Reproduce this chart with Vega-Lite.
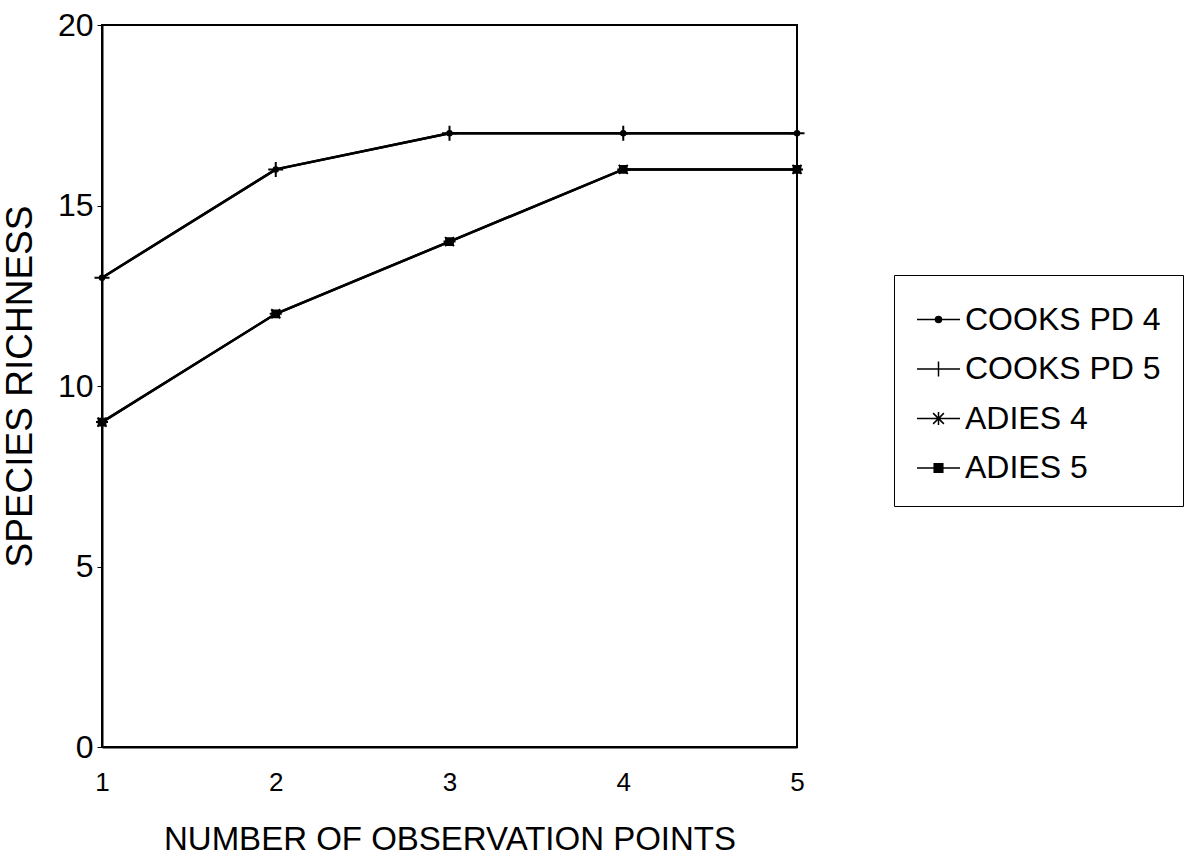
{
  "$schema": "https://vega.github.io/schema/vega-lite/v6.json",
  "width": 695,
  "height": 722,
  "autosize": {"type": "none"},
  "padding": {"left": 102, "top": 25, "right": 392, "bottom": 109},
  "background": "white",
  "config": {
    "font": "Liberation Sans",
    "view": {"stroke": "black", "strokeWidth": 2},
    "axis": {"grid": false, "domainColor": "black", "domainWidth": 2, "tickColor": "black", "labelColor": "black", "titleColor": "black", "titleFontWeight": "normal", "labelFont": "Liberation Sans", "titleFont": "Liberation Sans"}
  },
  "data": {
    "values": [
      {"points": 1, "richness": 13, "site": "COOKS PD 4"},
      {"points": 2, "richness": 16, "site": "COOKS PD 4"},
      {"points": 3, "richness": 17, "site": "COOKS PD 4"},
      {"points": 4, "richness": 17, "site": "COOKS PD 4"},
      {"points": 5, "richness": 17, "site": "COOKS PD 4"},
      {"points": 1, "richness": 13, "site": "COOKS PD 5"},
      {"points": 2, "richness": 16, "site": "COOKS PD 5"},
      {"points": 3, "richness": 17, "site": "COOKS PD 5"},
      {"points": 4, "richness": 17, "site": "COOKS PD 5"},
      {"points": 5, "richness": 17, "site": "COOKS PD 5"},
      {"points": 1, "richness": 9, "site": "ADIES 4"},
      {"points": 2, "richness": 12, "site": "ADIES 4"},
      {"points": 3, "richness": 14, "site": "ADIES 4"},
      {"points": 4, "richness": 16, "site": "ADIES 4"},
      {"points": 5, "richness": 16, "site": "ADIES 4"},
      {"points": 1, "richness": 9, "site": "ADIES 5"},
      {"points": 2, "richness": 12, "site": "ADIES 5"},
      {"points": 3, "richness": 14, "site": "ADIES 5"},
      {"points": 4, "richness": 16, "site": "ADIES 5"},
      {"points": 5, "richness": 16, "site": "ADIES 5"}
    ]
  },
  "encoding": {
    "x": {
      "field": "points", "type": "quantitative",
      "scale": {"domain": [1, 5], "nice": false, "zero": false},
      "axis": {"values": [1, 2, 3, 4, 5], "tickSize": 0, "labelPadding": 22, "labelFontSize": 26, "title": "NUMBER OF OBSERVATION POINTS", "titleFontSize": 33, "titlePadding": 28, "labelFlush": false}
    },
    "y": {
      "field": "richness", "type": "quantitative",
      "scale": {"domain": [0, 20], "nice": false},
      "axis": {"values": [0, 5, 10, 15, 20], "tickSize": 5, "labelPadding": 4, "labelFontSize": 32, "title": "SPECIES RICHNESS", "titleFontSize": 37, "titlePadding": 18}
    }
  },
  "resolve": {"scale": {"shape": "independent"}, "legend": {"shape": "independent"}},
  "layer": [
    {
      "mark": {"type": "line", "color": "black", "strokeWidth": 2.5},
      "encoding": {"detail": {"field": "site"}}
    },
    {
      "mark": {"type": "point", "filled": true, "fill": "black", "stroke": "black", "strokeWidth": 2, "size": 225, "opacity": 1},
      "encoding": {
        "shape": {
          "field": "site", "type": "nominal",
          "scale": {
            "domain": ["COOKS PD 4", "COOKS PD 5", "ADIES 4", "ADIES 5"],
            "range": [
              "M-0.3,0A0.3,0.3,0,1,0,0.3,0A0.3,0.3,0,1,0,-0.3,0Z",
              "M-1,0H1M0,-1V1",
              "M-0.8,0H0.8M-0.6,-0.6L0.6,0.6M-0.6,0.6L0.6,-0.6",
              "M-0.45,-0.45H0.45V0.45H-0.45Z"
            ]
          },
          "legend": null
        }
      }
    },
    {
      "transform": [{"filter": "datum.points > 100"}],
      "mark": {"type": "point", "filled": true, "fill": "black", "stroke": "black", "strokeWidth": 2, "size": 225, "opacity": 1},
      "encoding": {
        "shape": {
          "field": "site", "type": "nominal",
          "scale": {
            "domain": ["COOKS PD 4", "COOKS PD 5", "ADIES 4", "ADIES 5"],
            "range": [
              "M-1,0H1M-0.14,0A0.14,0.14,0,1,0,0.14,0A0.14,0.14,0,1,0,-0.14,0Z",
              "M-1,0H1M0,-0.35V0.35",
              "M-1,0H1M-0.25,-0.25L0.25,0.25M-0.25,0.25L0.25,-0.25M0,-0.3V0.3",
              "M-1,0H1M-0.2,-0.2H0.2V0.2H-0.2Z"
            ]
          },
          "legend": {
            "title": null,
            "orient": "none",
            "legendX": 792,
            "legendY": 250,
            "padding": 22,
            "strokeColor": "black",
            "fillColor": "white",
            "symbolSize": 1849,
            "labelFontSize": 32,
            "labelColor": "black",
            "labelFont": "Liberation Sans",
            "labelOffset": 4,
            "rowPadding": 10.5,
            "labelLimit": 400
          }
        }
      }
    }
  ]
}
